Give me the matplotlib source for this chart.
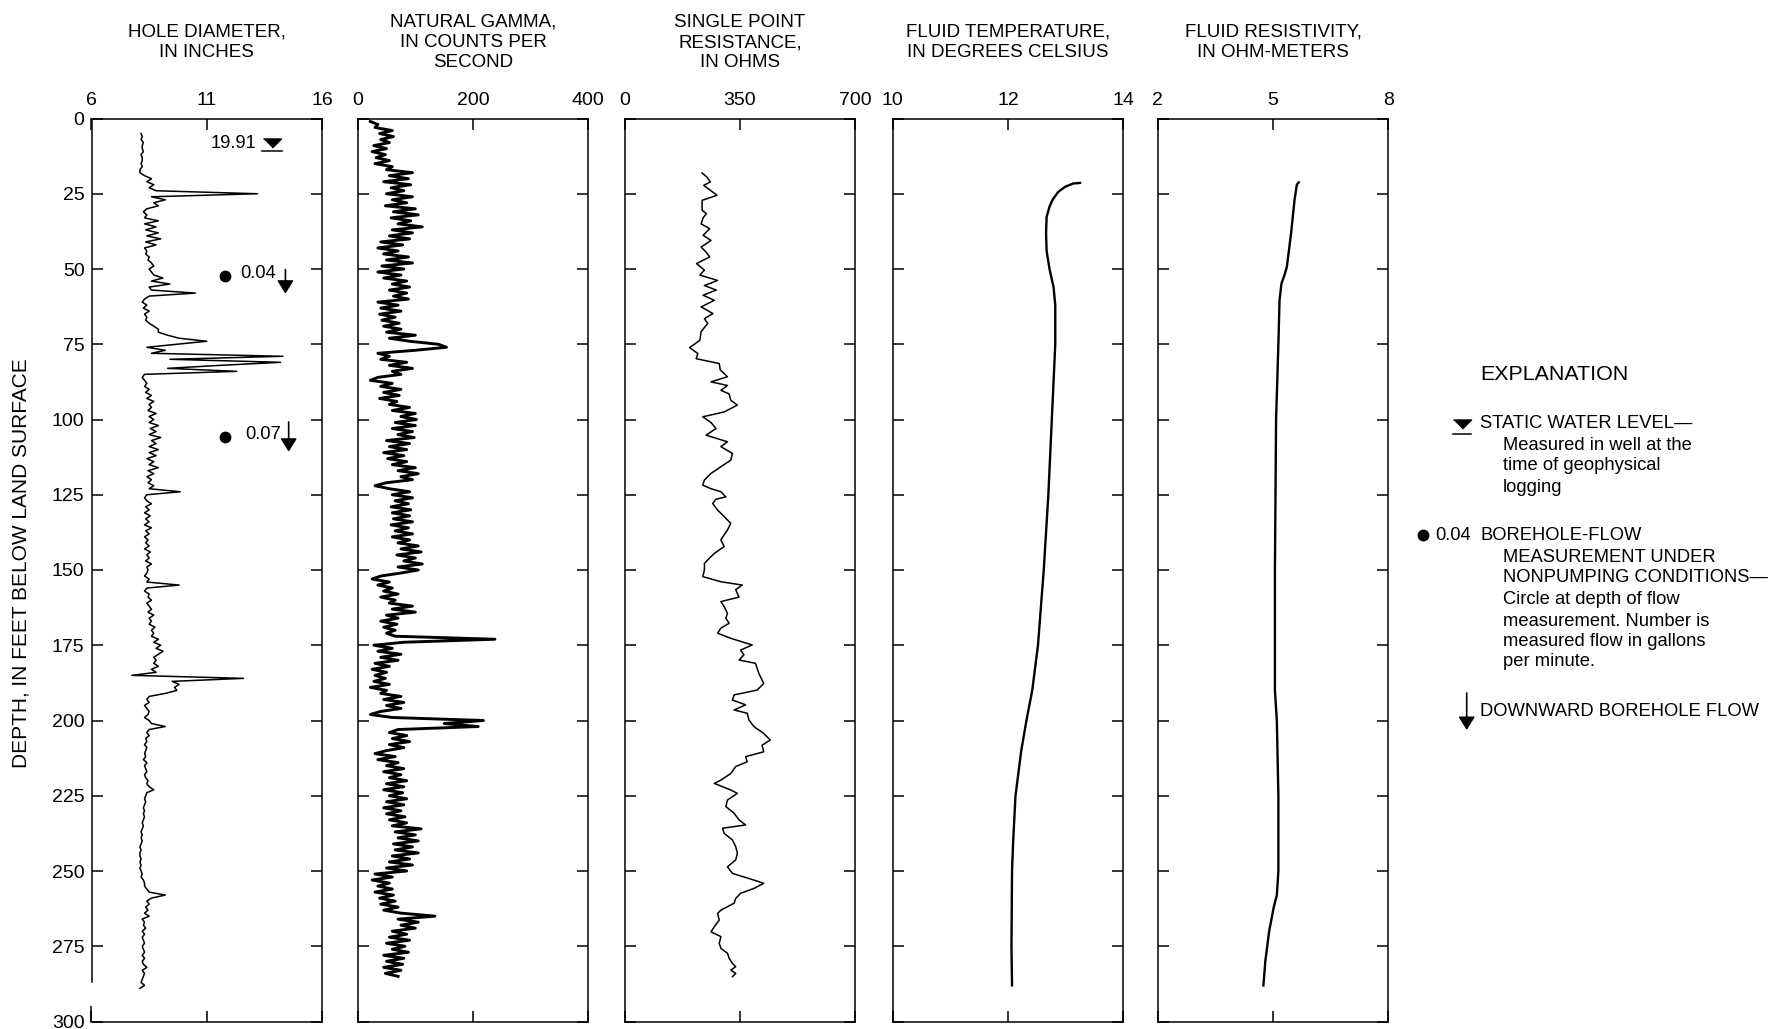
from __future__ import annotations

import matplotlib

matplotlib.use("Agg")
import matplotlib.pyplot as plt
import numpy as np

plt.rcParams["font.family"] = ["Liberation Sans", "DejaVu Sans"]

W, H = 1775, 1029

DEPTH_TICKS = list(range(0, 301, 25))

PANEL_TITLES = [
    "HOLE DIAMETER,\nIN INCHES",
    "NATURAL GAMMA,\nIN COUNTS PER\nSECOND",
    "SINGLE POINT\nRESISTANCE,\nIN OHMS",
    "FLUID TEMPERATURE,\nIN DEGREES CELSIUS",
    "FLUID RESISTIVITY,\nIN OHM-METERS",
]
PANEL_RANGES = [(6, 16), (0, 400), (0, 700), (10, 14), (2, 8)]
PANEL_TICK_LABELS = [
    ["6", "11", "16"],
    ["0", "200", "400"],
    ["0", "350", "700"],
    ["10", "12", "14"],
    ["2", "5", "8"],
]

# hole diameter, one reading per foot starting at 5 ft
CALIPER_TOP_FT = 5
CALIPER_IN = [
    8.15, 8.2, 8.15, 8.25, 8.2, 8.2, 8.25, 8.15, 8.2, 8.2,
    8.15, 8.2, 8.1, 8.1, 8.3, 8.6, 8.4, 8.7, 8.5, 8.8,
    13.2, 8.6, 9.2, 8.7, 8.9, 8.4, 8.25, 8.4, 8.3, 8.9,
    8.3, 8.8, 8.35, 8.9, 8.4, 9.0, 8.35, 8.8, 8.3, 8.4,
    8.35, 8.5, 8.45, 8.6, 8.7, 8.5, 8.6, 8.7, 9.1, 8.6,
    9.4, 8.5, 8.6, 10.5, 8.5, 8.3, 8.2, 8.4, 8.25, 8.5,
    8.3, 8.4, 8.35, 8.5, 8.7, 8.9, 8.9, 9.3, 9.8, 11.0,
    9.7, 8.4, 9.2, 8.6, 14.3, 9.4, 14.2, 11.6, 9.3, 12.3,
    8.3, 8.2, 8.3, 8.4, 8.3, 8.5, 8.35, 8.6, 8.4, 8.7,
    8.5, 8.6, 8.45, 8.8, 8.5, 8.7, 8.5, 8.9, 8.55, 8.8,
    8.5, 9.0, 8.6, 8.8, 8.5, 8.9, 8.5, 8.8, 8.4, 8.7,
    8.5, 8.9, 8.45, 8.7, 8.4, 8.6, 8.45, 8.7, 8.5, 9.85,
    8.4, 8.3, 8.4, 8.6, 8.35, 8.5, 8.3, 8.55, 8.35, 8.5,
    8.3, 8.6, 8.35, 8.5, 8.3, 8.45, 8.35, 8.5, 8.3, 8.55,
    8.4, 8.5, 8.35, 8.6, 8.4, 8.45, 8.4, 8.3, 8.5, 8.4,
    9.8, 8.4, 8.3, 8.5, 8.45, 8.6, 8.4, 8.5, 8.6, 8.45,
    8.7, 8.5, 8.6, 8.5, 8.75, 8.6, 8.7, 8.6, 8.9, 8.7,
    9.0, 8.8, 9.1, 8.9, 8.7, 8.8, 8.7, 8.9, 8.6, 8.8,
    7.75, 12.6, 9.5, 9.8, 9.6, 9.7, 9.2, 8.5, 8.4, 8.5,
    8.3, 8.4, 8.5, 8.45, 8.3, 8.5, 8.6, 9.2, 8.5, 8.4,
    8.5, 8.35, 8.4, 8.3, 8.4, 8.35, 8.3, 8.35, 8.25, 8.4,
    8.3, 8.35, 8.4, 8.3, 8.35, 8.45, 8.4, 8.5, 8.7, 8.4,
    8.35, 8.3, 8.35, 8.3, 8.25, 8.3, 8.25, 8.3, 8.25, 8.2,
    8.25, 8.2, 8.15, 8.2, 8.15, 8.2, 8.15, 8.1, 8.15, 8.1,
    8.1, 8.15, 8.1, 8.15, 8.1, 8.15, 8.2, 8.15, 8.25, 8.3,
    8.3, 8.4, 8.5, 9.2, 8.6, 8.4, 8.5, 8.35, 8.45, 8.3,
    8.5, 8.2, 8.3, 8.25, 8.35, 8.2, 8.3, 8.2, 8.25, 8.3,
    8.2, 8.25, 8.3, 8.2, 8.3, 8.2, 8.25, 8.4, 8.2, 8.3,
    8.25, 8.2, 8.15, 8.3, 8.1,
]

# natural gamma, one reading per foot starting at 1 ft
GAMMA_TOP_FT = 1
GAMMA_CPS = [
    22, 35, 30, 60, 38, 62, 40, 55, 28, 50,
    25, 48, 32, 55, 30, 60, 50, 95, 55, 88,
    45, 92, 58, 80, 50, 95, 60, 85, 48, 100,
    62, 105, 58, 92, 70, 112, 60, 95, 55, 90,
    40, 78, 35, 70, 45, 88, 50, 95, 42, 80,
    35, 75, 45, 85, 60, 90, 55, 85, 62, 88,
    35, 70, 40, 75, 38, 65, 42, 72, 45, 75,
    50, 100, 55, 90, 140, 154, 100, 35, 55, 40,
    85, 55, 95, 60, 75, 35, 22, 60, 40, 75,
    45, 72, 38, 68, 55, 90, 60, 100, 75, 102,
    65, 100, 60, 95, 70, 98, 50, 90, 55, 85,
    45, 80, 52, 85, 60, 100, 70, 105, 75, 95,
    50, 30, 55, 90, 60, 95, 65, 88, 58, 92,
    60, 90, 62, 95, 58, 88, 65, 95, 60, 90,
    70, 105, 75, 110, 68, 100, 80, 112, 70, 105,
    75, 40, 25, 55, 35, 60, 45, 70, 40, 65,
    55, 95, 60, 100, 50, 70, 40, 68, 45, 65,
    50, 65, 238, 80, 28, 60, 35, 75, 40, 70,
    30, 55, 25, 50, 30, 48, 28, 55, 22, 50,
    40, 75, 45, 80, 50, 75, 40, 22, 60, 218,
    150, 209, 70, 55, 85, 60, 90, 55, 80, 50,
    30, 65, 35, 70, 50, 80, 45, 75, 55, 85,
    50, 80, 45, 78, 55, 85, 50, 80, 45, 75,
    50, 82, 55, 85, 60, 110, 65, 100, 70, 105,
    62, 95, 65, 105, 60, 90, 55, 95, 50, 85,
    30, 60, 25, 55, 35, 60, 30, 62, 38, 65,
    40, 70, 45, 75, 134, 70, 105, 75, 100, 60,
    85, 55, 90, 50, 82, 60, 88, 45, 80, 50,
    78, 45, 75, 48, 70,
]

RESISTANCE_FT = [
    18.1, 19.5, 21.1, 22.2, 24.0, 25.5, 27.2, 30.5, 31.6, 33.0,
    35.0, 36.6, 38.8, 40.5, 42.7, 44.5, 46.0, 48.2, 50.4, 52.0,
    53.8, 55.5, 57.0, 58.7, 60.4, 62.6, 64.8, 66.5, 68.1, 70.8,
    73.7, 76.1, 78.1, 79.8, 81.4, 83.5, 85.8, 87.5, 88.7, 90.3,
    91.5, 93.6, 95.2, 97.5, 99.1, 101.0, 103.0, 105.2, 107.4, 109.0,
    111.3, 113.5, 115.7, 117.9, 120.1, 121.8, 123.0, 124.0, 125.7, 126.5,
    127.9, 130.1, 131.7, 134.5, 136.7, 138.3, 140.0, 142.2, 144.5, 146.1,
    147.8, 150.0, 152.2, 153.9, 155.0, 156.5, 157.8, 159.0, 160.5, 162.2,
    164.4, 166.0, 167.7, 169.3, 171.0, 172.7, 174.9, 176.6, 178.2, 179.9,
    181.0, 184.3, 187.7, 189.9, 191.5, 193.2, 194.8, 196.5, 197.6, 199.8,
    202.0, 204.3, 206.5, 208.2, 210.4, 212.0, 213.7, 215.3, 217.6, 219.8,
    220.9, 223.1, 224.2, 226.4, 228.6, 230.8, 233.0, 234.7, 235.8, 237.5,
    239.7, 241.9, 244.1, 246.3, 248.6, 250.8, 253.0, 254.1, 255.8, 257.4,
    259.1, 260.7, 263.0, 264.1, 266.3, 268.5, 270.2, 271.8, 274.0, 275.7,
    277.3, 279.0, 280.7, 281.8, 282.9, 284.0, 285.1,
]
RESISTANCE_OHM = [
    235, 250, 260, 240, 262, 280, 235, 235, 248, 238,
    232, 258, 238, 262, 232, 248, 258, 218, 242, 228,
    282, 242, 278, 238, 272, 232, 268, 242, 252, 232,
    228, 197, 222, 217, 287, 290, 312, 262, 312, 292,
    317, 322, 342, 302, 237, 262, 277, 247, 312, 292,
    327, 322, 292, 262, 242, 237, 262, 292, 307, 277,
    267, 282, 297, 322, 312, 302, 292, 302, 272, 257,
    242, 242, 237, 292, 357, 337, 342, 347, 292, 302,
    312, 307, 317, 292, 282, 322, 387, 352, 362, 347,
    397, 407, 422, 402, 332, 327, 367, 332, 372, 377,
    392, 422, 442, 417, 422, 367, 372, 337, 322, 292,
    272, 322, 342, 312, 307, 332, 347, 367, 297, 302,
    327, 337, 342, 337, 312, 327, 392, 422, 392, 352,
    337, 332, 292, 282, 287, 272, 262, 292, 287, 292,
    312, 317, 327, 337, 322, 337, 327,
]

TEMP_FT = [
    21.4, 21.6, 22.7, 24.4, 27.1, 29.3, 32.7, 38.0, 44.0, 50.0,
    56.0, 62.0, 75.0, 100.0, 125.0, 150.0, 175.0, 190.0, 200.0, 210.0,
    225.0, 240.0, 250.0, 275.0, 288.0,
]
TEMP_C = [
    13.25, 13.13, 12.99, 12.87, 12.77, 12.72, 12.67, 12.66, 12.67, 12.72,
    12.79, 12.82, 12.82, 12.76, 12.70, 12.62, 12.52, 12.42, 12.32, 12.23,
    12.13, 12.09, 12.07, 12.06, 12.07,
]

FLUID_RES_FT = [
    21.2, 22.0, 27.1, 38.2, 49.3, 52.0, 54.8, 60.4, 75.0, 100.0,
    150.0, 190.0, 200.0, 225.0, 250.0, 258.0, 262.0, 270.0, 280.0, 288.0,
]
FLUID_RES_OHMM = [
    5.67, 5.62, 5.56, 5.47, 5.36, 5.30, 5.22, 5.17, 5.14, 5.08,
    5.05, 5.05, 5.10, 5.14, 5.14, 5.10, 5.02, 4.90, 4.80, 4.75,
]

WATER_LEVEL_LABEL = "19.91"
FLOW_LABELS = ["0.04", "0.07"]
FLOW_DEPTH_FT = [52.3, 105.8]

# pixel layout of the five track axes
PANEL_LEFT_PX = [91.5, 357.7, 624.7, 892.7, 1157.7]
PANEL_WIDTH_PX = 230.6
PANEL_TOP_PX = 118.5
PANEL_BOTTOM_PX = 1021.5

FONT = 13.5
TICK_FONT = 14
SMALL = 13.2

ARROW = dict(arrowstyle="-|>,head_length=8,head_width=5", mutation_scale=1,
             color="black", lw=1.2, shrinkA=0, shrinkB=0)
FLAT_TRI = [(-1, 0.5), (1, 0.5), (0, -0.5)]


def px_rect(left, top, width, height):
    return [left / W, 1 - (top + height) / H, width / W, height / H]


def setup_track(fig, index):
    lo, hi = PANEL_RANGES[index]
    ax = fig.add_axes(
        px_rect(
            PANEL_LEFT_PX[index],
            PANEL_TOP_PX,
            PANEL_WIDTH_PX,
            PANEL_BOTTOM_PX - PANEL_TOP_PX,
        )
    )
    ax.set_xlim(lo, hi)
    ax.set_ylim(300, 0)
    ax.set_xticks([lo, (lo + hi) / 2, hi], PANEL_TICK_LABELS[index])
    ax.set_yticks(DEPTH_TICKS)
    ax.tick_params(
        axis="x", direction="in", top=True, bottom=True,
        labeltop=True, labelbottom=False,
        length=7.7, width=1.1, pad=7, labelsize=TICK_FONT,
    )
    ax.tick_params(
        axis="y", direction="in", left=True, right=True,
        labelleft=index == 0, length=7.7, width=1.1, pad=5,
        labelsize=TICK_FONT,
    )
    for spine in ax.spines.values():
        spine.set_linewidth(1.1)
    center = PANEL_LEFT_PX[index] + PANEL_WIDTH_PX / 2
    fig.text(
        center / W, 1 - 42.5 / H, PANEL_TITLES[index],
        ha="center", va="center", fontsize=FONT, linespacing=1.25,
    )
    return ax


def main() -> None:
    fig = plt.figure(figsize=(W / 100, H / 100), dpi=100)

    axes = [setup_track(fig, i) for i in range(5)]

    caliper_ft = np.arange(len(CALIPER_IN)) + CALIPER_TOP_FT
    gamma_ft = np.arange(len(GAMMA_CPS)) + GAMMA_TOP_FT
    axes[0].plot(CALIPER_IN, caliper_ft, color="black", lw=1.1)
    axes[1].plot(GAMMA_CPS, gamma_ft, color="black", lw=2.1)
    axes[2].plot(RESISTANCE_OHM, RESISTANCE_FT, color="black", lw=1.1)
    axes[3].plot(TEMP_C, TEMP_FT, color="black", lw=1.7)
    axes[4].plot(FLUID_RES_OHMM, FLUID_RES_FT, color="black", lw=1.7)

    # broken depth axis on the first track
    ax = axes[0]
    ax.spines["left"].set_bounds(0, 287)
    ax.plot([6, 6], [295, 300], color="black", lw=1.1, clip_on=False,
            solid_capstyle="butt")
    fig.text(21 / W, 1 - 563 / H, "DEPTH, IN FEET BELOW LAND SURFACE",
             rotation=90, ha="center", va="center", fontsize=15)

    # annotations on the hole diameter track
    ax.text(13.15, 8.4, WATER_LEVEL_LABEL, ha="right", va="center",
            fontsize=SMALL)
    ax.plot([13.83], [8.3], marker=FLAT_TRI, markersize=13, color="black",
            linestyle="none")
    ax.plot([13.4, 14.26], [10.8, 10.8], color="black", lw=1.1)
    arrows = [(14.41, 50.2, 58.2), (14.55, 100.8, 110.7)]
    text_x = [12.45, 12.67]
    for label, depth, tx, (ax_x, y0, y1) in zip(
        FLOW_LABELS, FLOW_DEPTH_FT, text_x, arrows
    ):
        ax.plot([11.8], [depth], marker="o", markersize=7.5, color="black")
        ax.text(tx, depth - 0.8, label, ha="left", va="center",
                fontsize=SMALL)
        ax.annotate("", xy=(ax_x, y1), xytext=(ax_x, y0), arrowprops=ARROW)

    # explanation, laid out in pixel space
    key = fig.add_axes([0, 0, 1, 1])
    key.set_xlim(0, W)
    key.set_ylim(H, 0)
    key.axis("off")
    key.patch.set_visible(False)
    key.text(1480, 375, "EXPLANATION", ha="left", va="center", fontsize=15.4)
    key.plot([1461.7], [423.5], marker=FLAT_TRI, markersize=13,
             color="black", linestyle="none")
    key.plot([1453, 1471], [434, 434], color="black", lw=1.1)
    key.text(1480, 424, "STATIC WATER LEVEL\u2014", ha="left", va="center",
             fontsize=SMALL)
    for y, line in zip(
        [445, 466, 487],
        ["Measured in well at the", "time of geophysical", "logging"],
    ):
        key.text(1502.7, y, line, ha="left", va="center", fontsize=SMALL)

    key.plot([1423], [535], marker="o", markersize=7.5, color="black")
    key.text(1435, 535, "0.04", ha="left", va="center", fontsize=SMALL)
    key.text(1480, 535, "BOREHOLE-FLOW", ha="left", va="center",
             fontsize=SMALL)
    flow_lines = [
        "MEASUREMENT UNDER",
        "NONPUMPING CONDITIONS\u2014",
        "Circle at depth of flow",
        "measurement. Number is",
        "measured flow in gallons",
        "per minute.",
    ]
    for y, line in zip([557, 577, 600, 621, 642, 662], flow_lines):
        key.text(1502.7, y, line, ha="left", va="center", fontsize=SMALL)

    key.annotate("", xy=(1466.7, 730), xytext=(1466.7, 693), arrowprops=ARROW)
    key.text(1480, 712, "DOWNWARD BOREHOLE FLOW", ha="left", va="center",
             fontsize=SMALL)

    fig.savefig("out.png", dpi=100)
    plt.close(fig)


if __name__ == "__main__":
    main()
